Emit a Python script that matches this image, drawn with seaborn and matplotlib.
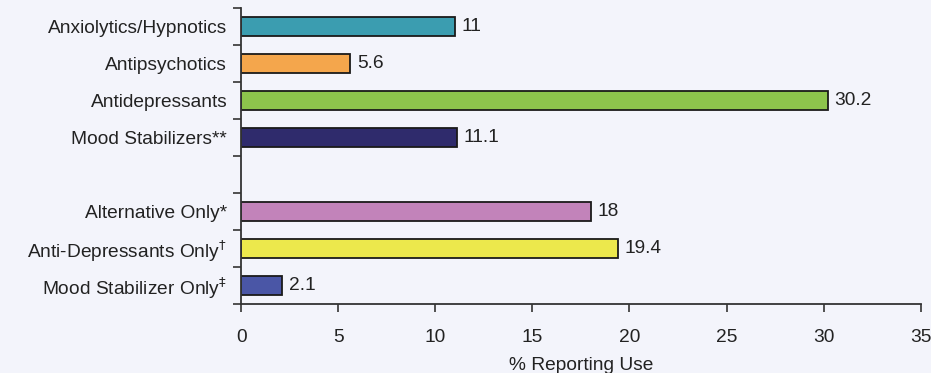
import pandas as pd
import numpy as np
import matplotlib.pyplot as plt
import seaborn as sns

# data
categories = ["Anxiolytics/Hypnotics", "Antipsychotics", "Antidepressants",
              "Mood Stabilizers**", " ",
              "Alternative Only*", r"Anti-Depressants Only$^{\dagger}$",
              r"Mood Stabilizer Only$^{\ddagger}$"]
values = [11, 5.6, 30.2, 11.1, np.nan, 18, 19.4, 2.1]
bar_colors = ["#3b9db0", "#f4a64c", "#8dc44c", "#2f2b6c", "#ffffff",
              "#c283ba", "#ece84c", "#4a56a6"]

df = pd.DataFrame({"category": categories, "value": values})

sns.set_style("white")
plt.rcParams['font.family'] = ['Liberation Sans', 'DejaVu Sans']
fs = 13.8

bg = "#f3f4fb"
fig = plt.figure(figsize=(9.31, 3.73), dpi=100, facecolor=bg)
ax = fig.add_axes([0.259, 0.185, 0.730, 0.794], facecolor=bg)

sns.barplot(data=df.dropna(), x="value", y="category", hue="category",
            order=categories, hue_order=categories,
            palette=dict(zip(categories, bar_colors)), legend=False, saturation=1,
            width=0.5, edgecolor="#1a1a1a", linewidth=1.3, ax=ax)

# value labels
for cont in ax.containers:
    ax.bar_label(cont, fmt="%g", padding=5, fontsize=fs, color="#222222")

ax.set_xlim(0, 35)
ax.set_ylim(len(categories) - 0.5, -0.5)
ax.set_xticks(range(0, 36, 5))
ax.set_xlabel("% Reporting Use", fontsize=fs, color="#222222", labelpad=8)
ax.set_ylabel("")

# labels at bar centres, tick marks between slots
ax.set_yticks(range(len(categories)))
ax.set_yticklabels(categories)
ax.set_yticks(np.arange(-0.5, len(categories), 1), minor=True)
ax.tick_params(axis="y", which="major", length=0, pad=10, labelsize=fs, labelcolor="#222222")
ax.tick_params(axis="y", which="minor", direction="out", length=6, width=1.2, color="#333333", left=True)
ax.tick_params(axis="x", direction="out", length=6, width=1.2, color="#333333",
               labelsize=fs, labelcolor="#222222", pad=12, bottom=True)

sns.despine(ax=ax, top=True, right=True)
for s in ["left", "bottom"]:
    ax.spines[s].set_color("#333333")
    ax.spines[s].set_linewidth(1.3)

fig.savefig("out.png", dpi=100, facecolor=bg)
